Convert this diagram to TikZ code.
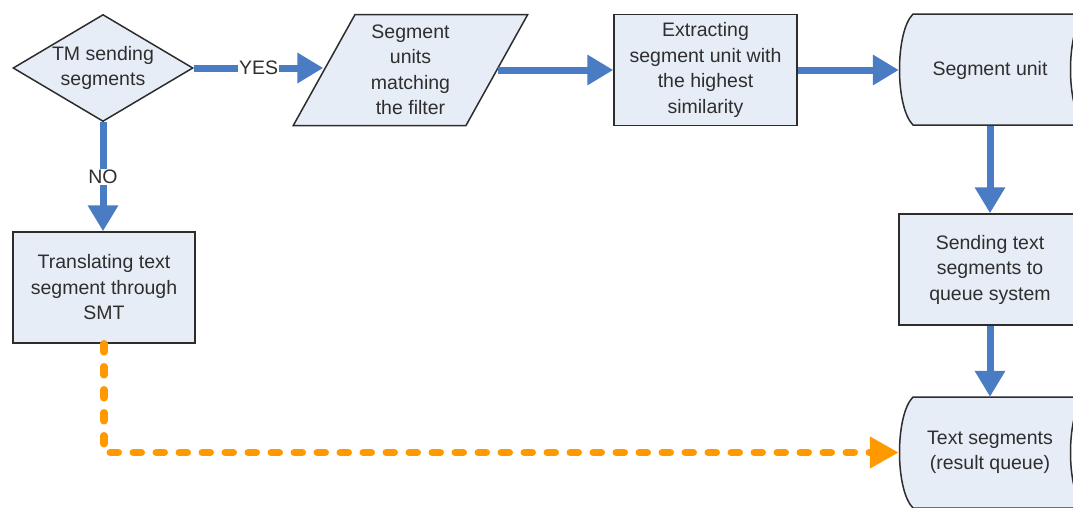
\documentclass[tikz,border=0pt]{standalone}
\usepackage{fontspec}
\setmainfont{Liberation Sans}
\usetikzlibrary{arrows.meta,shapes.geometric,calc}
\definecolor{boxfill}{RGB}{231,237,247}
\definecolor{flowblue}{RGB}{74,124,196}
\definecolor{floworange}{RGB}{255,153,0}
\definecolor{lineg}{RGB}{45,45,45}
\tikzset{
    x=1pt, y=-1pt,
    every node/.style = {font=\fontsize{19.5}{25.5}\selectfont,
                    text=black!82,
                    align=center},
    box/.style =    {rectangle,
                    fill=boxfill,
                    draw=lineg,
                    line width=1.5pt,
                    minimum width=183pt,
                    minimum height=111pt,
                    inner sep=0pt},
    decide/.style = {diamond,
                    aspect=1.68,
                    fill=boxfill,
                    draw=lineg,
                    line width=1.5pt,
                    minimum width=180pt,
                    minimum height=107pt,
                    inner sep=0pt},
    io/.style =     {trapezium,
                    trapezium left angle=64,
                    trapezium right angle=116,
                    trapezium stretches=true,
                    fill=boxfill,
                    draw=lineg,
                    line width=1.5pt,
                    minimum width=235pt,
                    minimum height=111pt,
                    inner sep=0pt},
    stored/.style = {fill=boxfill,
                    draw=lineg,
                    line width=1.5pt},
    storetext/.style = {minimum width=182pt,
                    minimum height=111pt,
                    inner sep=0pt},
    flow/.style =   {draw=flowblue,
                    line width=7pt,
                    -{Triangle[length=26pt,width=29pt]}},
    back/.style =   {draw=floworange,
                    line width=7.5pt,
                    line cap=round,
                    dash pattern=on 8pt off 15pt,
                    -{Triangle[length=29pt,width=30pt,line cap=butt]}},
    lbl/.style =    {fill=white,
                    inner sep=1pt}}

\begin{document}
\begin{tikzpicture}
    \clip (0,0) rectangle (1073,507);
    \fill[white] (0,0) rectangle (1073,507);

    % stored data shapes, cut at the right edge
    \draw[stored] (913,14) -- (1084,14) .. controls (1066,32) and (1066,107) .. (1084,125)
                 -- (913,125) .. controls (895,107) and (895,32) .. cycle;
    \draw[stored] (913,397) -- (1084,397) .. controls (1066,415) and (1066,490) .. (1084,508)
                 -- (913,508) .. controls (895,490) and (895,415) .. cycle;

    \node[decide]    (D) at (103,68)     {TM sending\\segments};
    \node[io]        (P) at (410.5,70)   {Segment\\units\\matching\\the filter};
    \node[box]       (X) at (705.5,70)   {Extracting\\segment unit with\\the highest\\similarity};
    \node[storetext] (U) at (990,70)     {Segment unit};
    \node[box, minimum width=182pt] (S) at (990,269.5) {Sending text\\segments to\\queue system};
    \node[storetext] (T) at (990,452.5)  {Text segments\\(result queue)};
    \node[box, minimum width=182pt] (L) at (104,287.5) {Translating text\\segment through\\SMT};

    \path [flow] (D.east) -- node [lbl] {YES} (D.east -| P.west);
    \path [flow] (P.east |- X.west) -- (X.west);
    \path [flow] (X.east) -- (U.west);
    \path [flow] (U.south) -- (S.north);
    \path [flow] (S.south) -- (T.north);
    \path [flow] (D.south) -- node [lbl] {NO} (D.south |- L.north);
    \path [back] (L.south) |- (T.west);
\end{tikzpicture}
\end{document}
